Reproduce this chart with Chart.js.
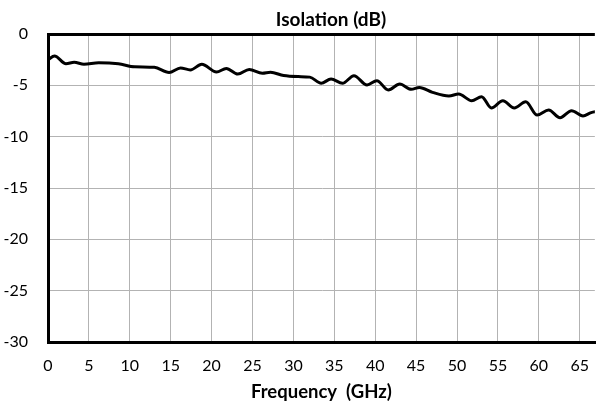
<!DOCTYPE html>
<html>
<head>
<meta charset="utf-8">
<script src="https://cdn.jsdelivr.net/npm/chart.js@4"></script>
<style>
  html, body { margin: 0; padding: 0; overflow: hidden; background: #fff; }
  #wrap { width: 603px; height: 406px; position: relative; }
</style>
</head>
<body>
<div id="wrap"><canvas id="c" width="603" height="406"></canvas></div>
<script>
const chartTitle = 'Isolation (dB)';
const xTitle = 'Frequency  (GHz)';
const freqs = [0, 0.8, 2.2, 3.2, 4.4, 6.2, 8.6, 10.6, 13, 14.8, 16.2, 17.4, 18.8, 20.6, 21.8, 23.2, 24.6, 26.2, 27.2, 28.8, 30.6, 32, 33.4, 34.6, 36, 37.4, 39, 40.2, 41.6, 43, 44.4, 45.4, 47, 49, 50.2, 51.8, 53, 54.2, 55.6, 57, 58.4, 59.8, 61.2, 62.6, 64, 65.4, 66.4, 67.5];
const isolation = [-2.5, -2.15, -2.9, -2.75, -2.95, -2.8, -2.9, -3.2, -3.25, -3.75, -3.3, -3.5, -2.95, -3.7, -3.35, -3.9, -3.45, -3.83, -3.73, -4.05, -4.15, -4.2, -4.8, -4.38, -4.8, -4.06, -4.97, -4.55, -5.45, -4.87, -5.39, -5.2, -5.68, -6.04, -5.84, -6.5, -6.1, -7.2, -6.5, -7.2, -6.6, -7.9, -7.4, -8.15, -7.47, -7.98, -7.66, -7.5];
const xTicks = [0, 5, 10, 15, 20, 25, 30, 35, 40, 45, 50, 55, 60, 65];
const yTicks = [0, -5, -10, -15, -20, -25, -30];
const xMin = 0, xMax = 66.85;
const yMin = -30, yMax = 0;

const FONT = 'Lato, "Open Sans", sans-serif';
const points = freqs.map((f, i) => ({x: f, y: isolation[i]}));

const titlePlugin = {
  id: 'topTitle',
  afterDraw(chart) {
    const ctx = chart.ctx;
    ctx.save();
    ctx.font = 'bold 19px ' + FONT;
    ctx.fillStyle = '#000';
    ctx.textAlign = 'center';
    ctx.textBaseline = 'middle';
    ctx.fillText(chartTitle, 331, 20);
    ctx.restore();
  }
};

new Chart(document.getElementById('c'), {
  type: 'line',
  data: {
    datasets: [{
      data: points,
      borderColor: '#000',
      borderWidth: 3,
      pointRadius: 0,
      cubicInterpolationMode: 'monotone',
      fill: false
    }]
  },
  plugins: [titlePlugin],
  options: {
    responsive: false,
    animation: false,
    layout: { padding: { left: 0, right: 0, top: 34, bottom: 0 } },
    plugins: {
      legend: { display: false },
      tooltip: { enabled: false },
      title: { display: false }
    },
    scales: {
      x: {
        type: 'linear',
        min: xMin, max: xMax,
        afterBuildTicks: s => { s.ticks = xTicks.map(v => ({ value: v })); },
        ticks: { autoSkip: false, color: '#000', font: { family: FONT, size: 16 }, padding: 14, maxRotation: 0 },
        grid: {
          drawTicks: false,
          color: ctx => ctx.tick && ctx.tick.value === xMin ? '#000' : '#b3b3b3',
          lineWidth: ctx => ctx.tick && ctx.tick.value === xMin ? 3 : 1
        },
        border: { display: true, color: '#000', width: 3 },
        title: { display: true, text: xTitle, color: '#000', font: { family: FONT, size: 18.5, weight: 'bold' }, padding: { top: 0, bottom: 3 } },
        afterFit: s => { s.height = 64; }
      },
      y: {
        min: yMin, max: yMax,
        afterBuildTicks: s => { s.ticks = yTicks.map(v => ({ value: v })); },
        ticks: { color: '#000', font: { family: FONT, size: 16 }, padding: 20 },
        grid: {
          drawTicks: false,
          color: ctx => ctx.tick && (ctx.tick.value === yMax || ctx.tick.value === yMin) ? '#000' : '#b3b3b3',
          lineWidth: ctx => ctx.tick && (ctx.tick.value === yMax || ctx.tick.value === yMin) ? 3 : 1
        },
        border: { display: true, color: '#000', width: 3 },
        afterFit: s => { s.width = 48; }
      }
    }
  }
});
</script>
</body>
</html>
